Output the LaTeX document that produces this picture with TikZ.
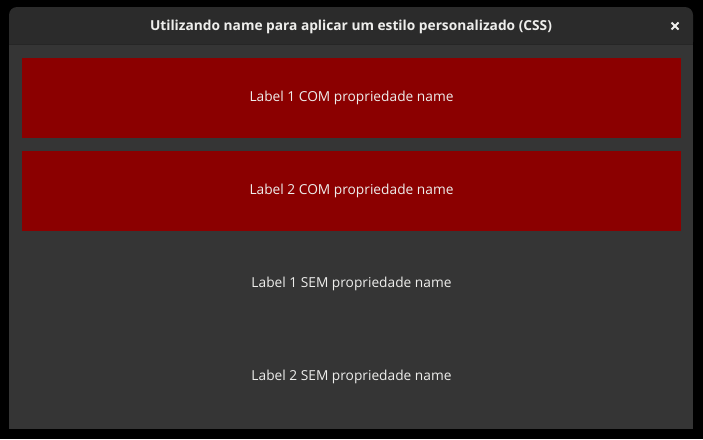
\documentclass[tikz,border=0pt]{standalone}
\usepackage{fontspec}
\setmainfont{Open Sans}
\definecolor{titlebg}{HTML}{2B2B2B}
\definecolor{bodybg}{HTML}{353535}
\definecolor{namered}{HTML}{8B0000}
\definecolor{labelfg}{HTML}{EEEEEC}
\begin{document}
\begin{tikzpicture}[x=0.75pt,y=-0.75pt,
	every node/.style={font=\fontsize{10.3pt}{12pt}\selectfont,text=labelfg},
	named/.style={fill=namered,minimum width=494.25pt,minimum height=60pt,inner sep=0pt},
	plain/.style={minimum width=494.25pt,minimum height=60pt,inner sep=0pt}]
	\useasboundingbox (0,0) rectangle (703,439);
	\fill[black] (0,0) rectangle (703,439);

	% window frame
	\fill[bodybg] (9,44) rectangle (693,429);
	\fill[titlebg, rounded corners=6pt] (9,7) rectangle (693,50);
	\fill[titlebg] (9,30) rectangle (693,44);
	\fill[bodybg] (9,45) rectangle (693,52);
	\draw[black!85, line width=0.75pt] (9,44.5) -- (693,44.5);

	\node (title) at (351,27) {\bfseries Utilizando name para aplicar um estilo personalizado (CSS)};
	\coordinate (close) at (675,26);
	\draw[labelfg, line width=1.5pt] ([shift={(-3.5,-3.5)}]close) -- ([shift={(3.5,3.5)}]close);
	\draw[labelfg, line width=1.5pt] ([shift={(-3.5,3.5)}]close) -- ([shift={(3.5,-3.5)}]close);

	% labels
	\node[named] (com1) at (351.5,97.5) {\raisebox{-1.5pt}{Label 1 COM propriedade name}};
	\node[named] (com2) at (351.5,190.5) {\raisebox{-1.5pt}{Label 2 COM propriedade name}};
	\node[plain] (sem1) at (351.5,283.5) {\raisebox{-1.5pt}{Label 1 SEM propriedade name}};
	\node[plain] (sem2) at (351.5,376.5) {\raisebox{-1.5pt}{Label 2 SEM propriedade name}};
\end{tikzpicture}
\end{document}
